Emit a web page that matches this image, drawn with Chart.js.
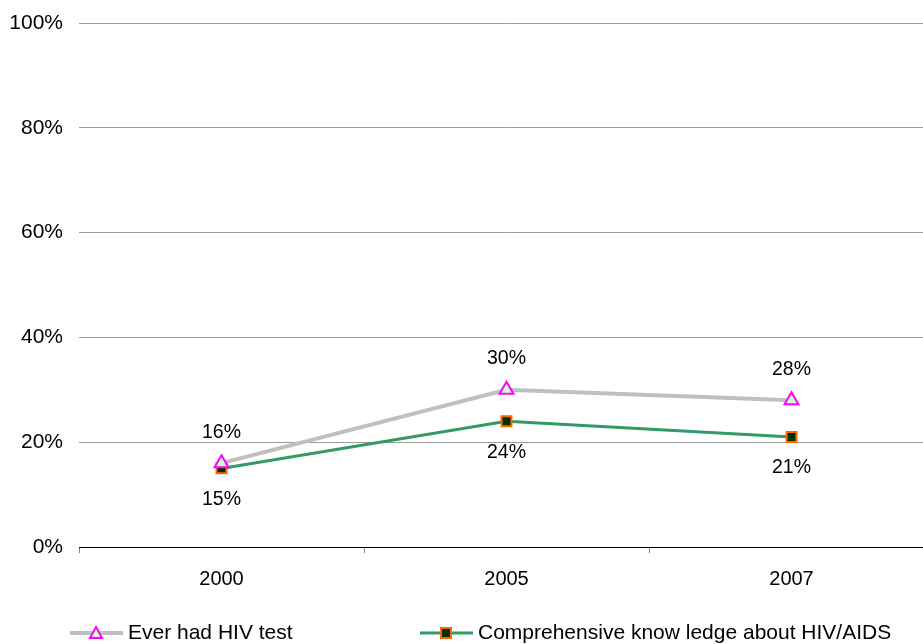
<!DOCTYPE html>
<html>
<head>
<meta charset="utf-8">
<script src="https://cdn.jsdelivr.net/npm/chart.js@4/dist/chart.umd.min.js"></script>
<style>
  html, body { margin: 0; padding: 0; overflow: hidden; background: #fff; }
  canvas { display: block; }
</style>
</head>
<body>
<canvas id="ctx" width="944" height="644"></canvas>
<script>
const years = ['2000', '2005', '2007']
const everTested = [16, 30, 28]
const knowledge = [15, 24, 21]
const seriesNames = ['Ever had HIV test', 'Comprehensive know ledge about HIV/AIDS']

const FONT = '"Liberation Sans", Arial, sans-serif'

// value labels: first series above its points, second one below
const valueLabels = {
  id: 'valueLabels',
  afterDatasetsDraw: (chart) => {
    const {ctx} = chart
    ctx.save()
    ctx.font = '19.5px ' + FONT
    ctx.fillStyle = '#000'
    ctx.textAlign = 'center'
    ctx.textBaseline = 'middle'
    chart.data.datasets.forEach((ds, i) => {
      const meta = chart.getDatasetMeta(i)
      meta.data.forEach((pt, j) => {
        const dy = i === 0 ? -31 : 31
        ctx.fillText(ds.data[j] + '%', pt.x, pt.y + dy)
      })
    })
    ctx.restore()
  }
}

// legend with a line + marker sample, like the original
const lineLegend = {
  id: 'lineLegend',
  afterDraw: (chart) => {
    const {ctx} = chart
    const y = 633
    const starts = [70, 420]
    ctx.save()
    ctx.font = '21px ' + FONT
    ctx.textBaseline = 'middle'
    chart.data.datasets.forEach((ds, i) => {
      const x = starts[i]
      ctx.strokeStyle = ds.borderColor
      ctx.lineWidth = ds.borderWidth
      ctx.beginPath()
      ctx.moveTo(x, y)
      ctx.lineTo(x + 53, y)
      ctx.stroke()
      const cx = x + 26
      ctx.lineWidth = 2
      ctx.strokeStyle = ds.pointBorderColor
      ctx.fillStyle = ds.pointBackgroundColor
      ctx.beginPath()
      if (i === 0) {
        ctx.moveTo(cx, y - 6)
        ctx.lineTo(cx + 6, y + 5)
        ctx.lineTo(cx - 6, y + 5)
        ctx.closePath()
      } else {
        ctx.rect(cx - 5, y - 5, 10, 10)
      }
      ctx.fill()
      ctx.stroke()
      ctx.fillStyle = '#000'
      ctx.fillText(ds.label, x + 58, y)
    })
    ctx.restore()
  }
}

const data = {
  labels: years,
  datasets: [{
    label: seriesNames[0],
    data: everTested,
    borderColor: '#c0c0c0',
    borderWidth: 4,
    pointStyle: 'triangle',
    pointRadius: 8,
    pointBorderWidth: 2,
    pointBorderColor: '#ff00ff',
    pointBackgroundColor: '#ccffcc'
  }, {
    label: seriesNames[1],
    data: knowledge,
    borderColor: '#339966',
    borderWidth: 3,
    pointStyle: 'rect',
    pointRadius: 7,
    pointBorderWidth: 2,
    pointBorderColor: '#ff6600',
    pointBackgroundColor: '#003300'
  }]
}

const options = {
  type: 'line',
  data,
  options: {
    responsive: false,
    animation: false,
    layout: {padding: {top: 23, bottom: 39, left: 0, right: 0}},
    plugins: {
      legend: {display: false},
      tooltip: {enabled: false}
    },
    scales: {
      x: {
        offset: true,
        grid: {offset: true, drawOnChartArea: false, drawTicks: true, tickLength: 6, color: '#808080'},
        border: {display: true, color: '#000', width: 1},
        ticks: {color: '#000', font: {family: FONT, size: 20}, padding: 14}
      },
      y: {
        min: 0,
        max: 100,
        afterFit: (s) => {
          s.width = 79
          s.paddingTop = 0
          s.paddingBottom = 0
        },
        grid: {drawTicks: false, color: '#999', lineWidth: 1},
        border: {display: false},
        ticks: {stepSize: 20, padding: 16, color: '#000', font: {family: FONT, size: 21},
          callback: (v) => v + '%'}
      }
    }
  },
  plugins: [valueLabels, lineLegend]
}

const chart = new Chart(document.getElementById('ctx'), options)
</script>
</body>
</html>
